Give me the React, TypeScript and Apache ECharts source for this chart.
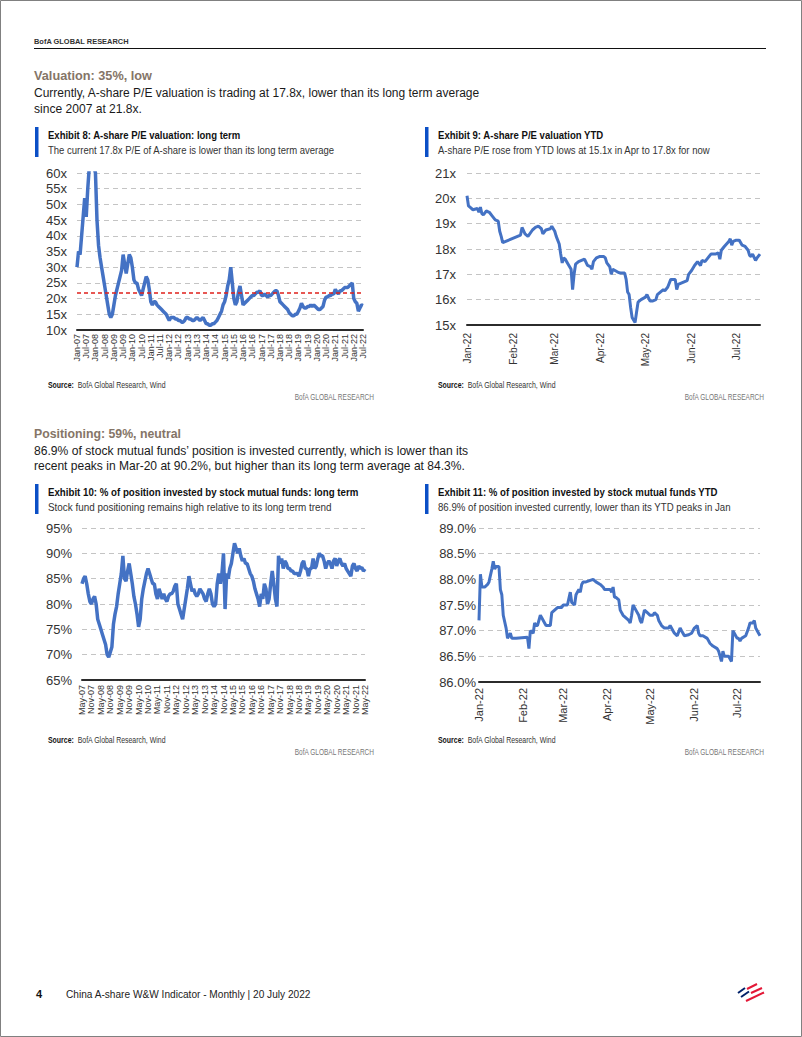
import React, { useEffect, useRef } from "react";
import * as echarts from "echarts";

const MONTHS = ["Jan", "Feb", "Mar", "Apr", "May", "Jun", "Jul", "Aug", "Sep", "Oct", "Nov", "Dec"];
function monthLabels(startYear: number, startMonth: number, count: number): string[] {
  const out: string[] = [];
  for (let i = 0; i < count; i++) {
    const m = startMonth + i;
    const y = startYear + Math.floor(m / 12);
    out.push(MONTHS[m % 12] + "-" + String(y).slice(2));
  }
  return out;
}

// Exhibit 8: A-share P/E, monthly Jan-07 .. Jul-22
const peLongMonths = monthLabels(2007, 0, 187);
const peLongValues = [
  30, 35, 34, 40, 46, 52, 46, 55, 62, 68, 70, 62,
  60, 45, 37, 33, 30, 27, 24, 21, 18, 15, 14, 15,
  18, 21, 23, 25, 27, 29, 34, 31, 28, 31, 34, 33,
  30, 26, 25, 25, 23, 22, 21, 23, 25, 27, 26, 23,
  19, 18, 19, 19, 18, 17.5, 17, 16.5, 16, 15.5, 15, 14,
  13, 14, 14, 14, 13.5, 13.5, 13, 13, 12.5, 12.5, 13, 14,
  14, 13.5, 13.5, 13, 13, 13.5, 14, 13.5, 13, 13.5, 14, 13,
  12, 12, 11.5, 11.5, 12, 12, 12.5, 13, 14, 15, 16, 18,
  19, 21, 24, 26, 30, 25, 20, 18, 19, 22, 24, 21,
  18, 18.5, 19, 19.5, 20, 20.5, 21, 21, 21.5, 22, 22, 22.5,
  21, 21, 21.5, 21, 20.5, 21, 21, 21.5, 22, 22.5, 22.5, 21,
  19, 18.5, 18, 17.5, 17, 16.5, 15.5, 15, 14.5, 14.5, 15, 15,
  16, 17, 18.5, 17.5, 17, 17, 17.5, 17.5, 18, 17.5, 18, 17.5,
  17, 16.5, 16.5, 17, 17.5, 19.5, 20.5, 20.5, 21, 21, 21.5, 21.5,
  23, 22, 21.5, 22.5, 22.5, 23, 23.5, 23.5, 23.5, 24, 24.5, 25,
  20, 19, 18.5, 16, 17, 18, 17.8,
];
const peLongAverage = 21.8;

// Exhibit 9: A-share P/E YTD
const peYtdDates = [
  "2022-01-01", "2022-01-02", "2022-01-03", "2022-01-05", "2022-01-08", "2022-01-09", "2022-01-10", "2022-01-11",
  "2022-01-12", "2022-01-14", "2022-01-16", "2022-01-18", "2022-01-20", "2022-01-22", "2022-01-23", "2022-01-24",
  "2022-01-25", "2022-02-06", "2022-02-07", "2022-02-09", "2022-02-11", "2022-02-14", "2022-02-16", "2022-02-18",
  "2022-02-20", "2022-02-21", "2022-02-23", "2022-02-26", "2022-02-27", "2022-03-01", "2022-03-02", "2022-03-04",
  "2022-03-05", "2022-03-06", "2022-03-07", "2022-03-08", "2022-03-10", "2022-03-12", "2022-03-13", "2022-03-14",
  "2022-03-15", "2022-03-17", "2022-03-19", "2022-03-21", "2022-03-23", "2022-03-25", "2022-03-26", "2022-03-27",
  "2022-03-29", "2022-03-31", "2022-04-03", "2022-04-04", "2022-04-05", "2022-04-07", "2022-04-08", "2022-04-09",
  "2022-04-12", "2022-04-14", "2022-04-17", "2022-04-18", "2022-04-19", "2022-04-20", "2022-04-21", "2022-04-22",
  "2022-04-24", "2022-04-25", "2022-04-26", "2022-04-28", "2022-05-01", "2022-05-02", "2022-05-04", "2022-05-06",
  "2022-05-08", "2022-05-09", "2022-05-11", "2022-05-13", "2022-05-14", "2022-05-16", "2022-05-18", "2022-05-21",
  "2022-05-22", "2022-05-23", "2022-05-25", "2022-05-29", "2022-05-30", "2022-06-01", "2022-06-03", "2022-06-05",
  "2022-06-07", "2022-06-08", "2022-06-10", "2022-06-12", "2022-06-14", "2022-06-17", "2022-06-19", "2022-06-20",
  "2022-06-21", "2022-06-23", "2022-06-26", "2022-06-27", "2022-06-28", "2022-06-29", "2022-07-01", "2022-07-03",
  "2022-07-05", "2022-07-07", "2022-07-09", "2022-07-10", "2022-07-11", "2022-07-12", "2022-07-14", "2022-07-15",
  "2022-07-17",
];
const peYtdValues = [
  20.1, 19.7, 19.65, 19.55, 19.6, 19.45, 19.65, 19.4,
  19.35, 19.5, 19.45, 19.3, 19.15, 19.1, 18.7, 18.5,
  18.25, 18.55, 18.85, 18.6, 18.5, 18.75, 18.85, 18.9,
  18.8, 18.6, 18.75, 18.8, 18.9, 18.7, 18.5, 18.2,
  17.8, 17.45, 17.65, 17.6, 17.4, 17.2, 16.4, 17.0,
  17.4, 17.5, 17.55, 17.6, 17.35, 17.3, 17.2, 17.5,
  17.65, 17.7, 17.7, 17.65, 17.45, 17.3, 17.0, 17.2,
  17.1, 17.05, 17.05, 16.8, 16.3, 16.2, 15.7, 15.3,
  15.1, 15.5, 15.9, 16.0, 16.1, 16.2, 15.95, 15.95,
  16.0, 16.2, 16.3, 16.4, 16.35, 16.5, 16.8, 16.8,
  16.4, 16.6, 16.65, 16.75, 17.0, 17.15, 17.35, 17.5,
  17.35, 17.55, 17.5, 17.65, 17.8, 17.8, 17.85, 17.6,
  17.95, 18.1, 18.3, 18.4, 18.15, 18.3, 18.35, 18.35,
  18.15, 18.1, 17.95, 17.75, 17.7, 17.8, 17.55, 17.65,
  17.8,
];
const ytdStart = "2022-01-01";
const ytdEnd = "2022-07-17";

// Exhibit 10: % of position invested, monthly May-07 .. May-22
const posLongMonths = monthLabels(2007, 4, 181);
const posLongValues = [
  84, 85, 85.5, 84, 82, 80.5,
  80, 81, 81.5, 80, 77, 76,
  75, 74, 73, 72, 70, 69.5,
  70.5, 71.5, 76, 78, 79.5, 82,
  84, 86, 89.5, 85, 84.5, 86.5,
  88, 86, 84, 81.5, 80, 78,
  75.5, 77, 81, 83, 84.5, 86,
  87, 86, 85, 84, 84, 82,
  81, 83, 82, 81, 82, 81,
  80.5, 81.5, 82, 82, 82.5, 83.5,
  84, 80, 79, 78, 77, 79,
  81, 83, 85.5, 84, 82.5, 83,
  82, 81.5, 82, 83, 82.5, 82,
  81, 80.5, 82, 83, 82, 80,
  79.5, 80, 84, 86, 84, 86,
  90, 79, 86, 85, 87, 88,
  90, 92, 91, 90, 91, 89.5,
  88.5, 89, 88, 88, 87, 86,
  85.5, 84.5, 83, 82, 81, 79.5,
  82, 81, 84, 83, 80, 81,
  84, 86.5, 84, 81, 79.5, 89.5,
  88, 89, 87, 88.5, 88, 87,
  87, 86.5, 86.5, 86, 86, 86,
  85.5, 86.5, 88, 88.5, 87, 87,
  85.5, 87, 87, 89, 87, 87.5,
  89, 90, 89.5, 89.5, 88.5, 87,
  88, 88.5, 88, 87, 88.5, 89,
  87.5, 88.5, 89, 88, 87.5, 88,
  87, 86.5, 86, 85.5, 87.5, 88,
  87, 86.5, 87.5, 87, 87.2, 86.5,
  86.9,
];

// Exhibit 11: % of position invested YTD
const posYtdDates = [
  "2022-01-01", "2022-01-02", "2022-01-03", "2022-01-05", "2022-01-07", "2022-01-08", "2022-01-10", "2022-01-11",
  "2022-01-12", "2022-01-13", "2022-01-15", "2022-01-16", "2022-01-17", "2022-01-18", "2022-01-20", "2022-01-21",
  "2022-01-22", "2022-01-23", "2022-01-24", "2022-01-27", "2022-02-04", "2022-02-05", "2022-02-06", "2022-02-08",
  "2022-02-09", "2022-02-10", "2022-02-11", "2022-02-13", "2022-02-14", "2022-02-16", "2022-02-17", "2022-02-20",
  "2022-02-21", "2022-02-23", "2022-02-25", "2022-02-28", "2022-03-01", "2022-03-03", "2022-03-04", "2022-03-06",
  "2022-03-07", "2022-03-09", "2022-03-10", "2022-03-12", "2022-03-13", "2022-03-14", "2022-03-15", "2022-03-17",
  "2022-03-20", "2022-03-22", "2022-03-24", "2022-03-27", "2022-03-29", "2022-03-30", "2022-04-02", "2022-04-03",
  "2022-04-04", "2022-04-05", "2022-04-06", "2022-04-07", "2022-04-09", "2022-04-10", "2022-04-12", "2022-04-14",
  "2022-04-16", "2022-04-17", "2022-04-18", "2022-04-19", "2022-04-21", "2022-04-23", "2022-04-24", "2022-04-25",
  "2022-04-27", "2022-04-29", "2022-05-01", "2022-05-03", "2022-05-04", "2022-05-06", "2022-05-07", "2022-05-09",
  "2022-05-11", "2022-05-14", "2022-05-15", "2022-05-17", "2022-05-18", "2022-05-20", "2022-05-22", "2022-05-23",
  "2022-05-24", "2022-05-25", "2022-05-28", "2022-05-30", "2022-06-01", "2022-06-03", "2022-06-04", "2022-06-05",
  "2022-06-07", "2022-06-10", "2022-06-12", "2022-06-14", "2022-06-17", "2022-06-18", "2022-06-20", "2022-06-21",
  "2022-06-22", "2022-06-24", "2022-06-25", "2022-06-27", "2022-06-28", "2022-06-29", "2022-07-01", "2022-07-02",
  "2022-07-03", "2022-07-04", "2022-07-07", "2022-07-09", "2022-07-10", "2022-07-12", "2022-07-13", "2022-07-14",
  "2022-07-16", "2022-07-17",
];
const posYtdValues = [
  87.2, 88.1, 87.85, 87.85, 87.9, 87.95, 88.2, 88.35,
  88.2, 88.25, 88.25, 87.8, 87.7, 87.3, 87.05, 86.85,
  86.9, 86.95, 86.85, 86.85, 86.87, 86.65, 87.0, 86.95,
  87.15, 87.1, 87.1, 87.3, 87.25, 87.15, 87.1, 87.1,
  87.35, 87.4, 87.45, 87.45, 87.5, 87.5, 87.5, 87.75,
  87.55, 87.5, 87.7, 87.8, 87.75, 87.9, 87.95, 87.95,
  87.98, 88.0, 87.95, 87.9, 87.85, 87.8, 87.8, 87.8,
  87.75, 87.85, 87.65, 87.65, 87.6, 87.4, 87.3, 87.25,
  87.2, 87.15, 87.3, 87.5, 87.4, 87.3, 87.2, 87.15,
  87.4, 87.35, 87.3, 87.3, 87.35, 87.3, 87.2, 87.1,
  87.05, 87.05, 87.1, 87.0, 86.95, 86.9, 87.05, 87.0,
  86.95, 86.9, 86.92, 86.95, 87.05, 87.1, 86.95, 86.9,
  86.9, 86.85, 86.75, 86.7, 86.65, 86.6, 86.4, 86.6,
  86.5, 86.5, 86.5, 86.4, 87.0, 86.95, 86.85, 86.85,
  86.8, 86.85, 86.9, 87.05, 87.15, 87.15, 87.2, 87.05,
  86.95, 86.9,
];

const BLUE = "#4472C4";
const GRID_COLOR = "#c4c4c4";
const AXIS_COLOR = "#2b2b2b";
const SANS = '"Liberation Sans", Arial, sans-serif';

function toLocalTs(s: string): number {
  const [y, m, d] = s.split("-").map(Number);
  return new Date(y, m - 1, d).getTime();
}
function monthFmt(v: number): string {
  const d = new Date(v);
  return MONTHS[d.getMonth()] + "-" + String(d.getFullYear()).slice(2);
}

let measureCtx: CanvasRenderingContext2D | null = null;
function measure(text: string, size: number, weight: string): number {
  if (!measureCtx) measureCtx = document.createElement("canvas").getContext("2d");
  if (!measureCtx) return text.length * size * 0.5;
  measureCtx.font = `${weight} ${size}px ${SANS}`;
  return measureCtx.measureText(text).width;
}

// text whose horizontal extent is fitted to the width
function txt(x: number, y: number, text: string, width: number | null, o: any = {}) {
  const size = o.size || 12;
  const weight = o.weight || "normal";
  let sx = 1;
  if (width) {
    const w = o.measured != null ? o.measured : measure(text, size, weight);
    sx = Math.max(0.6, Math.min(1.2, width / w));
  }
  return {
    type: "text",
    x,
    y,
    scaleX: sx,
    scaleY: 1,
    silent: true,
    style: {
      text,
      fill: o.fill || "#1a1a1a",
      fontSize: size,
      fontFamily: SANS,
      fontWeight: weight,
      textAlign: o.align || "left",
      align: o.align || "left",
      textVerticalAlign: "middle",
      verticalAlign: "middle",
      rich: o.rich,
    },
  };
}

function exhibitHeader(x: number, yTitle: number, title: string, titleW: number, sub: string, subW: number) {
  return [
    { type: "rect", silent: true, shape: { x: x, y: yTitle - 8, width: 3.5, height: 30 }, style: { fill: "#0B4FC6" } },
    txt(x + 13, yTitle, title, titleW, { size: 11, weight: "bold", fill: "#111" }),
    txt(x + 13, yTitle + 15, sub, subW, { size: 10.5, fill: "#333" }),
  ];
}

function sourceBlock(x: number, y: number, right: number) {
  const m = measure("Source:", 8.5, "bold") + measure("  BofA Global Research, Wind", 8.5, "normal");
  return [
    txt(x, y, "{b|Source:}  BofA Global Research, Wind", 118, {
      size: 8.5,
      fill: "#333",
      measured: m,
      rich: { b: { fontWeight: "bold", fontSize: 8.5, fontFamily: SANS, fill: "#111" } },
    }),
    txt(right, y + 12, "BofA GLOBAL RESEARCH", 80, { size: 8.5, fill: "#777", align: "right" }),
  ];
}

export default function App() {
  const ref = useRef<HTMLDivElement>(null);
  useEffect(() => {
    if (!ref.current) return;
    const chart = echarts.init(ref.current, undefined, { renderer: "svg" });

    const splitLine = { show: true, lineStyle: { color: GRID_COLOR, type: [5, 4], width: 1 } };
    const xAxisLine = { show: true, lineStyle: { color: AXIS_COLOR, width: 2 } };
    const yLabel = (fmt: any, size: number, margin: number) => ({
      formatter: fmt,
      color: "#333",
      fontSize: size,
      fontFamily: SANS,
      margin,
    });
    const catLabel = (margin: number) => ({
      interval: 5, rotate: 90, fontSize: 9, fontFamily: SANS, color: "#333", margin,
      showMinLabel: true, showMaxLabel: true, hideOverlap: false,
    });

    const graphicEls: any[] = [
      { type: "rect", silent: true, shape: { x: 0.5, y: 0.5, width: 801, height: 1036 }, style: { fill: "none", stroke: "#808080", lineWidth: 1 } },
      txt(34, 41, "BofA GLOBAL RESEARCH", 95, { size: 8, weight: "bold", fill: "#333" }),
      { type: "line", silent: true, shape: { x1: 34, y1: 48.5, x2: 766, y2: 48.5 }, style: { stroke: "#111", lineWidth: 1 } },
      txt(34, 75, "Valuation: 35%, low", 118, { size: 13.5, weight: "bold", fill: "#857567" }),
      txt(34, 92, "Currently, A-share P/E valuation is trading at 17.8x, lower than its long term average", 446, { size: 13.5 }),
      txt(34, 108, "since 2007 at 21.8x.", 108, { size: 13.5 }),
      ...exhibitHeader(35, 135, "Exhibit 8: A-share P/E valuation: long term", 193, "The current 17.8x P/E of A-share is lower than its long term average", 287),
      ...exhibitHeader(425, 135, "Exhibit 9: A-share P/E valuation YTD", 166, "A-share P/E rose from YTD lows at 15.1x in Apr to 17.8x for now", 273),
      ...sourceBlock(48, 385, 374),
      ...sourceBlock(438, 385, 764),
      txt(34, 433, "Positioning: 59%, neutral", 147, { size: 13.5, weight: "bold", fill: "#857567" }),
      txt(34, 450, "86.9% of stock mutual funds’ position is invested currently, which is lower than its", 435, { size: 13.5 }),
      txt(34, 465, "recent peaks in Mar-20 at 90.2%, but higher than its long term average at 84.3%.", 431, { size: 13.5 }),
      ...exhibitHeader(35, 492, "Exhibit 10: % of position invested by stock mutual funds: long term", 311, "Stock fund positioning remains high relative to its long term trend", 284),
      ...exhibitHeader(425, 492, "Exhibit 11: % of position invested by stock mutual funds YTD", 280, "86.9% of position invested currently, lower than its YTD peaks in Jan", 293),
      ...sourceBlock(48, 740, 374),
      ...sourceBlock(438, 740, 764),
      txt(36, 994, "4", null, { size: 11, weight: "bold", fill: "#111" }),
      txt(66, 994, "China A-share W&W Indicator - Monthly | 20 July 2022", 245, { size: 11.5, fill: "#222" }),
      { type: "line", silent: true, shape: { x1: 738, y1: 993, x2: 745, y2: 988 }, style: { stroke: "#012169", lineWidth: 2 } },
      { type: "line", silent: true, shape: { x1: 741, y1: 997, x2: 749, y2: 991.5 }, style: { stroke: "#012169", lineWidth: 2 } },
      { type: "line", silent: true, shape: { x1: 747, y1: 989, x2: 757, y2: 984 }, style: { stroke: "#E31837", lineWidth: 2 } },
      { type: "line", silent: true, shape: { x1: 751, y1: 993, x2: 762, y2: 988 }, style: { stroke: "#E31837", lineWidth: 2 } },
      { type: "line", silent: true, shape: { x1: 746, y1: 1001, x2: 764, y2: 992.5 }, style: { stroke: "#E31837", lineWidth: 2 } },
    ];

    chart.setOption({
      animation: false,
      backgroundColor: "#ffffff",
      grid: [
        { left: 77, top: 173, width: 286, height: 157 },
        { left: 467, top: 173, width: 293, height: 152 },
        { left: 82, top: 528, width: 283, height: 152 },
        { left: 479, top: 528, width: 281, height: 154 },
      ],
      xAxis: [
        {
          gridIndex: 0, type: "category", data: peLongMonths, boundaryGap: false,
          axisLine: xAxisLine, axisTick: { show: false }, splitLine: { show: false },
          axisLabel: catLabel(4),
        },
        {
          gridIndex: 1, type: "time", min: toLocalTs(ytdStart), max: toLocalTs(ytdEnd),
          splitNumber: 7, minInterval: 28 * 864e5, maxInterval: 31 * 864e5,
          axisLine: xAxisLine, axisTick: { show: false }, splitLine: { show: false },
          axisLabel: { formatter: monthFmt, rotate: 90, fontSize: 10, fontFamily: SANS, color: "#333", margin: 8, hideOverlap: false },
        },
        {
          gridIndex: 2, type: "category", data: posLongMonths, boundaryGap: false,
          axisLine: xAxisLine, axisTick: { show: false }, splitLine: { show: false },
          axisLabel: catLabel(5),
        },
        {
          gridIndex: 3, type: "time", min: toLocalTs(ytdStart), max: toLocalTs(ytdEnd),
          splitNumber: 7, minInterval: 28 * 864e5, maxInterval: 31 * 864e5,
          axisLine: xAxisLine, axisTick: { show: false }, splitLine: { show: false },
          axisLabel: { formatter: monthFmt, rotate: 90, fontSize: 11, fontFamily: SANS, color: "#333", margin: 6, hideOverlap: false },
        },
      ],
      yAxis: [
        {
          gridIndex: 0, type: "value", min: 10, max: 60, interval: 5,
          axisLine: { show: false }, axisTick: { show: false }, splitLine,
          axisLabel: yLabel("{value}x", 13, 10),
        },
        {
          gridIndex: 1, type: "value", min: 15, max: 21, interval: 1,
          axisLine: { show: false }, axisTick: { show: false }, splitLine,
          axisLabel: yLabel("{value}x", 13, 11),
        },
        {
          gridIndex: 2, type: "value", min: 65, max: 95, interval: 5,
          axisLine: { show: false }, axisTick: { show: false }, splitLine,
          axisLabel: yLabel("{value}%", 13, 10),
        },
        {
          gridIndex: 3, type: "value", min: 86, max: 89, interval: 0.5,
          axisLine: { show: false }, axisTick: { show: false }, splitLine,
          axisLabel: yLabel((v: number) => v.toFixed(1) + "%", 13, 3),
        },
      ],
      series: [
        {
          type: "line", xAxisIndex: 0, yAxisIndex: 0, data: peLongValues, showSymbol: false, symbol: "none",
          lineStyle: { color: BLUE, width: 3.5 }, itemStyle: { color: BLUE }, clip: true,
          markLine: {
            silent: true, symbol: "none", label: { show: false },
            lineStyle: { color: "#E0201B", type: [4, 3], width: 1.5 },
            data: [{ yAxis: peLongAverage }],
          },
          z: 3,
        },
        {
          type: "line", xAxisIndex: 1, yAxisIndex: 1,
          data: peYtdDates.map((d, i) => [toLocalTs(d), peYtdValues[i]]),
          showSymbol: false, symbol: "none", lineStyle: { color: BLUE, width: 3 }, itemStyle: { color: BLUE },
        },
        {
          type: "line", xAxisIndex: 2, yAxisIndex: 2, data: posLongValues, showSymbol: false, symbol: "none",
          lineStyle: { color: BLUE, width: 3.5 }, itemStyle: { color: BLUE },
        },
        {
          type: "line", xAxisIndex: 3, yAxisIndex: 3,
          data: posYtdDates.map((d, i) => [toLocalTs(d), posYtdValues[i]]),
          showSymbol: false, symbol: "none", lineStyle: { color: BLUE, width: 3 }, itemStyle: { color: BLUE },
        },
      ],
      graphic: { elements: graphicEls },
    });

    return () => chart.dispose();
  }, []);

  return (
    <div
      ref={ref}
      style={{ position: "absolute", left: 0, top: 0, width: 802, height: 1037, background: "#fff" }}
    />
  );
}
